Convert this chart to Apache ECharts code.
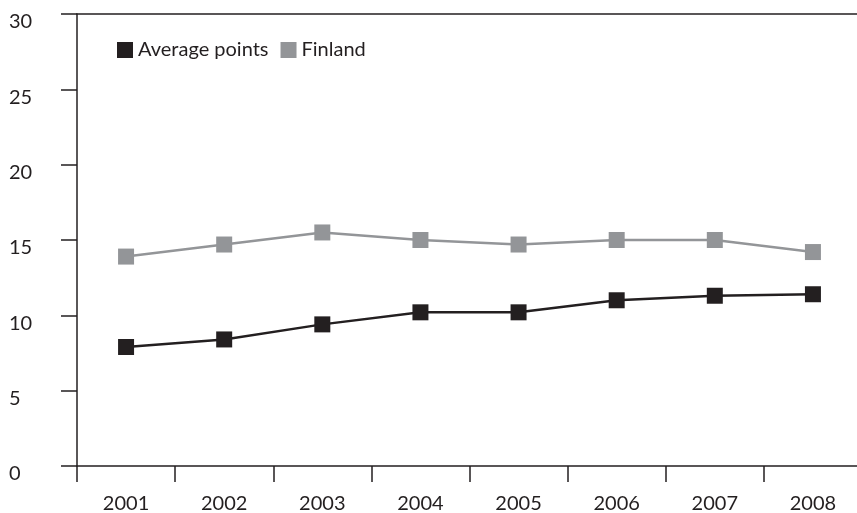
<!DOCTYPE html>
<html>
<head>
<meta charset="utf-8">
<script src="https://cdn.jsdelivr.net/npm/echarts@6/dist/echarts.min.js"></script>
<style>
  html, body { margin: 0; padding: 0; background: #fff; }
  #chart { width: 857px; height: 513px; }
</style>
</head>
<body>
<div id="chart"></div>
<script>
var years = ['2001', '2002', '2003', '2004', '2005', '2006', '2007', '2008'];
var averagePoints = [7.9, 8.4, 9.4, 10.2, 10.2, 11.0, 11.3, 11.4];
var finland = [13.9, 14.7, 15.5, 15.0, 14.7, 15.0, 15.0, 14.2];

var dark = '#231f20';
var grey = '#939598';
var font = 'Lato';

var chart = echarts.init(document.getElementById('chart'));
chart.setOption({
  animation: false,
  backgroundColor: '#fff',
  textStyle: { fontFamily: font },
  legend: {
    left: 117,
    top: 40,
    padding: 0,
    icon: 'rect',
    itemWidth: 16,
    itemHeight: 16,
    itemGap: 12,
    textStyle: { fontFamily: font, fontSize: 20, color: dark },
    data: ['Average points', 'Finland']
  },
  grid: {
    left: 77, top: 14, width: 785, height: 452,
    containLabel: false, outerBoundsMode: 'none'
  },
  xAxis: [{
    type: 'category',
    data: years,
    boundaryGap: true,
    axisLine: { lineStyle: { color: dark, width: 1.5 } },
    axisTick: { show: true, length: 16, lineStyle: { color: dark, width: 1.5 } },
    axisLabel: { fontFamily: font, fontSize: 20, color: dark, margin: 28 }
  }, {
    type: 'category',
    data: years,
    position: 'top',
    axisLine: { show: true, lineStyle: { color: dark, width: 1.5 } },
    axisTick: { show: false },
    axisLabel: { show: false }
  }],
  yAxis: {
    type: 'value',
    min: 0,
    max: 30,
    interval: 5,
    axisLine: { show: true, lineStyle: { color: dark, width: 1.5 } },
    axisTick: { show: true, length: 16, lineStyle: { color: dark, width: 1.5 } },
    splitLine: { show: false },
    axisLabel: {
      fontFamily: font, fontSize: 20, color: dark,
      align: 'left', margin: 68, verticalAlign: 'top', lineHeight: 16
    }
  },
  series: [{
    name: 'Average points',
    type: 'line',
    data: averagePoints,
    symbol: 'rect',
    symbolSize: 16,
    itemStyle: { color: dark },
    lineStyle: { color: dark, width: 2.5 }
  }, {
    name: 'Finland',
    type: 'line',
    data: finland,
    symbol: 'rect',
    symbolSize: 16,
    itemStyle: { color: grey },
    lineStyle: { color: grey, width: 2.5 }
  }]
});
</script>
</body>
</html>
